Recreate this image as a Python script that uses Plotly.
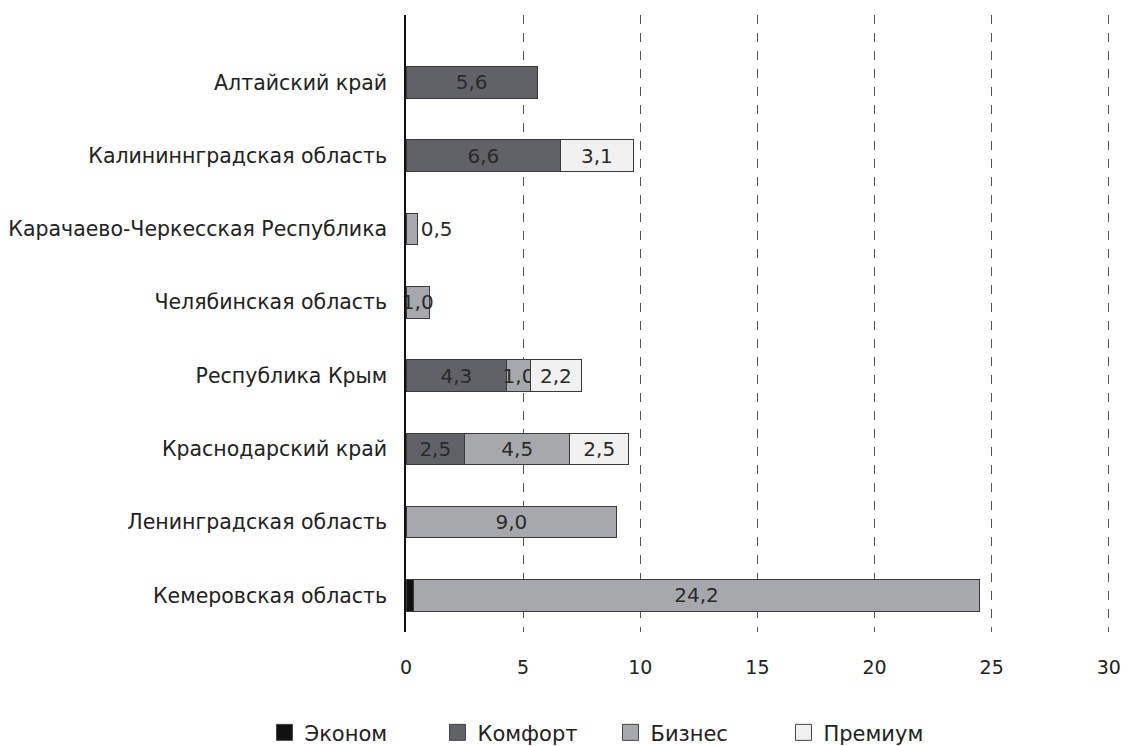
import plotly.graph_objects as go

regions = [
    "Алтайский край",
    "Калининнградская область",
    "Карачаево-Черкесская Республика",
    "Челябинская область",
    "Республика Крым",
    "Краснодарский край",
    "Ленинградская область",
    "Кемеровская область",
]
econom = [None, None, None, None, None, None, None, 0.3]
comfort = [5.6, 6.6, None, None, 4.3, 2.5, None, None]
business = [None, None, 0.5, 1.0, 1.0, 4.5, 9.0, 24.2]
premium = [None, 3.1, None, None, 2.2, 2.5, None, None]

series = [
    ("Эконом", econom, "#111111", False),
    ("Комфорт", comfort, "#606268", True),
    ("Бизнес", business, "#a7a8ac", True),
    ("Премиум", premium, "#f1f1f1", True),
]

FONT = "DejaVu Sans"

def fmt(v):
    return "" if v is None else f"{v:.1f}".replace(".", ",")

fig = go.Figure()
for name, vals, color, labeled in series:
    texts = [fmt(v) if labeled else "" for v in vals]
    positions = ["outside" if (v is not None and v < 0.75) else "inside" for v in vals]
    fig.add_trace(go.Bar(
        y=regions, x=vals, name=name, orientation="h",
        marker=dict(color=color, line=dict(color="#3a3a3a", width=1)),
        text=texts, textposition=positions, insidetextanchor="middle",
        textangle=0,
        textfont=dict(size=20, color="#2a2a2a", family=FONT),
        constraintext="none", cliponaxis=False,
        showlegend=False, legendgroup=name,
    ))
    # legend entry with a larger square swatch
    fig.add_trace(go.Scatter(
        x=[None], y=[None], mode="markers", name=name, legendgroup=name,
        marker=dict(symbol="square", size=16, color=color,
                    line=dict(color="#444444", width=1)),
        showlegend=True, hoverinfo="skip",
    ))

W, H = 1120, 738
fig.update_layout(
    barmode="stack",
    bargap=0.57,
    width=W, height=H,
    margin=dict(l=398, r=18, t=7, b=114, autoexpand=False),
    plot_bgcolor="white", paper_bgcolor="white",
    font=dict(family=FONT, size=18, color="#222222"),
    uniformtext=dict(minsize=20, mode="show"),
    showlegend=True,
    legend=dict(
        orientation="h", xref="container", yref="container",
        x=0.229, xanchor="left", y=0.018, yanchor="middle",
        font=dict(size=21, color="#222222", family=FONT),
        entrywidth=128, entrywidthmode="pixels",
        traceorder="normal", itemclick=False, itemsizing="trace",
    ),
)
fig.update_xaxes(
    range=[0, 30.05], dtick=5, tick0=0,
    showgrid=True, gridcolor="#555555", griddash="dash", gridwidth=1,
    zeroline=False, showline=False, ticks="",
    ticklabelstandoff=22,
    tickfont=dict(size=19, color="#222222", family=FONT),
)
fig.update_yaxes(
    range=[7.5, -0.92],
    showline=True, linecolor="#111111", linewidth=1.5,
    showgrid=False, zeroline=False, ticks="",
    ticklabelstandoff=13,
    tickfont=dict(size=20.5, color="#222222", family=FONT),
)

fig.write_html("out.html")
